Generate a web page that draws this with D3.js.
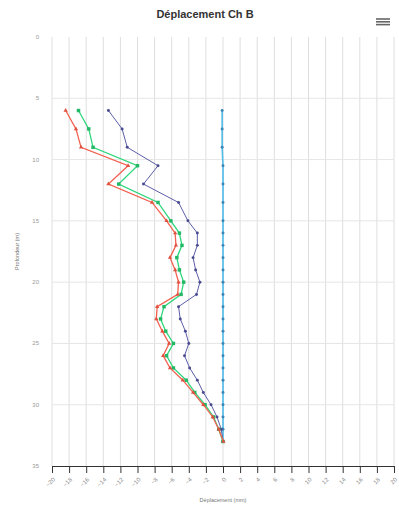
<!DOCTYPE html>
<html>
<head>
<meta charset="utf-8">
<script src="https://cdn.jsdelivr.net/npm/d3@7"></script>
<style>
	body { margin: 0; background: #fff; }
	text { font-family: "Liberation Sans", Arial, sans-serif; }
</style>
</head>
<body>
<script>
"use strict";

// depths (m)
var depths = [6, 7.5, 9, 10.5, 12, 13.5, 15, 16, 17, 18, 19, 20, 21, 22, 23, 24, 25, 26, 27, 28, 29, 30, 31, 32, 33];

// displacements (mm)
var serieA = [-0.1, -0.1, -0.1, 0.0, 0.0, 0.0, 0.0, 0.0, 0.0, 0.0, 0.0, 0.0, 0.0, 0.0, 0.0, 0.0, 0.0, 0.0, 0.0, 0.0, 0.0, 0.0, 0.0, 0.0, 0.0];
var serieB = [-13.4, -11.8, -11.2, -7.6, -9.3, -5.2, -4.1, -3.0, -3.0, -3.5, -3.2, -2.7, -3.1, -5.2, -5.0, -4.4, -4.0, -4.5, -3.9, -3.0, -2.3, -1.4, -0.7, -0.2, 0.0];
var serieC = [-16.9, -15.7, -15.2, -10.0, -12.2, -7.6, -6.1, -5.1, -4.8, -5.4, -5.1, -4.6, -4.9, -6.9, -7.3, -6.7, -5.8, -6.6, -5.8, -4.3, -3.3, -2.1, -1.1, -0.5, 0.0];
var serieD = [-18.4, -17.2, -16.6, -11.1, -13.4, -8.3, -6.6, -5.6, -5.5, -6.2, -5.6, -5.2, -5.3, -7.7, -7.8, -7.1, -6.3, -7.0, -6.2, -4.7, -3.5, -2.3, -1.2, -0.5, 0.05];

var xTicks = [-20, -18, -16, -14, -12, -10, -8, -6, -4, -2, 0, 2, 4, 6, 8, 10, 12, 14, 16, 18, 20];
var yTicks = [0, 5, 10, 15, 20, 25, 30, 35];

var width = 399, height = 507;
var margin = {top: 37, right: 5, bottom: 41, left: 52};

var svg = d3.select("body")
	.append("svg")
	.attr("width", width)
	.attr("height", height);

var x = d3.scaleLinear()
	.domain([-20, 20])
	.range([margin.left, width - margin.right]);

var y = d3.scaleLinear()
	.domain([0, 35])
	.range([margin.top, height - margin.bottom]);

// title
svg.append("text")
	.attr("x", 205)
	.attr("y", 18)
	.attr("text-anchor", "middle")
	.style("font-size", "11px")
	.style("font-weight", "bold")
	.style("fill", "#333")
	.text("Déplacement Ch B");

// menu icon
[19, 21.8, 24.6].forEach(function (yy) {
	svg.append("line")
		.attr("x1", 376).attr("x2", 390)
		.attr("y1", yy).attr("y2", yy)
		.attr("stroke", "#666")
		.attr("stroke-width", 1.6);
});

// grid
svg.append("g")
	.selectAll("line")
	.data(xTicks)
	.enter().append("line")
	.attr("x1", function (d) { return x(d); })
	.attr("x2", function (d) { return x(d); })
	.attr("y1", y(0))
	.attr("y2", y(35))
	.attr("stroke", "#dedede")
	.attr("stroke-width", 1);

svg.append("g")
	.selectAll("line")
	.data(yTicks.filter(function (d) { return d > 0 && d < 35; }))
	.enter().append("line")
	.attr("x1", x(-20))
	.attr("x2", x(20))
	.attr("y1", function (d) { return y(d); })
	.attr("y2", function (d) { return y(d); })
	.attr("stroke", "#e6e6e6")
	.attr("stroke-width", 1);

// x axis
var xAxis = svg.append("g")
	.attr("transform", "translate(0," + y(35) + ")")
	.call(d3.axisBottom(x).tickValues(xTicks).tickSize(7).tickSizeOuter(0));

xAxis.select(".domain").attr("stroke", "#333");
xAxis.selectAll(".tick line").attr("stroke", "#333");
xAxis.selectAll(".tick text")
	.style("font-size", "6px")
	.style("fill", "#888")
	.attr("text-anchor", "end")
	.attr("x", 0)
	.attr("y", 0)
	.attr("dy", null)
	.attr("transform", "translate(3,14) rotate(-45)");

// y axis labels
svg.append("g")
	.selectAll("text")
	.data(yTicks)
	.enter().append("text")
	.attr("x", 39)
	.attr("y", function (d) { return y(d) + 2; })
	.attr("text-anchor", "end")
	.style("font-size", "6px")
	.style("fill", "#999")
	.text(function (d) { return d; });

// axis titles
svg.append("text")
	.attr("x", x(0))
	.attr("y", 502)
	.attr("text-anchor", "middle")
	.style("font-size", "5.5px")
	.style("fill", "#777")
	.text("Déplacement (mm)");

svg.append("text")
	.attr("transform", "translate(19," + y(17.5) + ") rotate(-90)")
	.attr("text-anchor", "middle")
	.style("font-size", "5.5px")
	.style("fill", "#777")
	.text("Profondeur (m)");

// series
var series = [
	{values: serieA, color: "#4fbbe8", marker: "#3a86b8", width: 1.6, symbol: d3.symbolCircle, size: 7},
	{values: serieB, color: "#5c5ea8", marker: "#4a4c90", width: 1, symbol: d3.symbolCircle, size: 7},
	{values: serieC, color: "#2fd67c", marker: "#22b865", width: 1.3, symbol: d3.symbolSquare, size: 12},
	{values: serieD, color: "#f2604f", marker: "#e0523f", width: 1.3, symbol: d3.symbolTriangle, size: 8}
];

var line = d3.line()
	.x(function (d) { return x(d[0]); })
	.y(function (d) { return y(d[1]); });

series.forEach(function (s) {
	var pts = s.values.map(function (v, i) { return [v, depths[i]]; });
	var g = svg.append("g");
	g.append("path")
		.datum(pts)
		.attr("d", line)
		.attr("fill", "none")
		.attr("stroke", s.color)
		.attr("stroke-width", s.width);
	g.selectAll("path.pt")
		.data(pts)
		.enter().append("path")
		.attr("class", "pt")
		.attr("d", d3.symbol().type(s.symbol).size(s.size))
		.attr("transform", function (d) { return "translate(" + x(d[0]) + "," + y(d[1]) + ")"; })
		.attr("fill", s.marker);
});
</script>
</body>
</html>
